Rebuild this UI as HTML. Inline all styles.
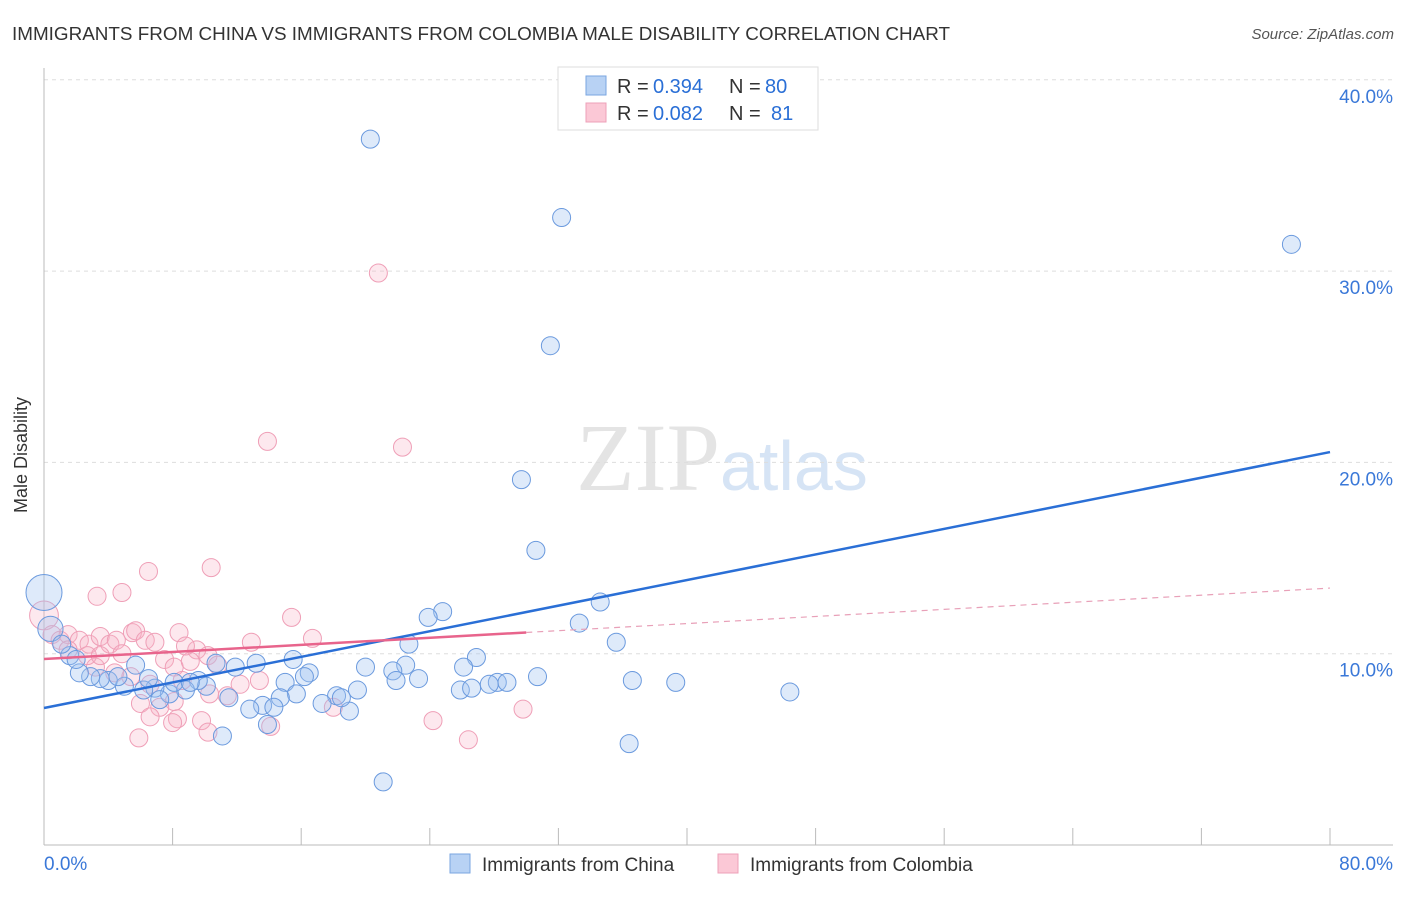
<!DOCTYPE html>
<html><head><meta charset="utf-8"><style>
body{margin:0;background:#fff;font-family:"Liberation Sans",sans-serif}
</style></head><body>
<svg width="1406" height="892" xmlns="http://www.w3.org/2000/svg" font-family="Liberation Sans, sans-serif">
<text x="12" y="40" font-size="18" fill="#333" textLength="938" lengthAdjust="spacingAndGlyphs">IMMIGRANTS FROM CHINA VS IMMIGRANTS FROM COLOMBIA MALE DISABILITY CORRELATION CHART</text>
<text x="1394" y="39" font-size="15" fill="#555" font-style="italic" text-anchor="end">Source: ZipAtlas.com</text>
<text x="720" y="490" font-size="96" fill="#e4e4e4" text-anchor="end" font-family="Liberation Serif, serif">ZIP</text>
<text x="720" y="490" font-size="70" fill="#d6e4f5">atlas</text>
<g id="grid"></g>
<g id="axes"></g>
<g id="pts"></g>
<g id="lines"></g>
<text x="27" y="455" font-size="18" fill="#333" text-anchor="middle" transform="rotate(-90 27 455)">Male Disability</text>
<g>
<rect x="558" y="67" width="260" height="63" fill="#fff" stroke="#ddd"/>
<rect x="586" y="76" width="20" height="19" fill="#b8d2f4" stroke="#7aa6e0"/>
<rect x="586" y="103" width="20" height="19" fill="#fbc8d6" stroke="#eea0b8"/>
<text x="617" y="93" font-size="20" fill="#333">R =</text>
<text x="653" y="93" font-size="20" fill="#2a6fd6">0.394</text>
<text x="729" y="93" font-size="20" fill="#333">N =</text>
<text x="765" y="93" font-size="20" fill="#2a6fd6">80</text>
<text x="617" y="120" font-size="20" fill="#333">R =</text>
<text x="653" y="120" font-size="20" fill="#2a6fd6">0.082</text>
<text x="729" y="120" font-size="20" fill="#333">N =</text>
<text x="771" y="120" font-size="20" fill="#2a6fd6">81</text>
</g>
<g>
<rect x="450" y="854" width="20" height="19" fill="#b8d2f4" stroke="#7aa6e0"/>
<text x="482" y="871" font-size="19" fill="#333">Immigrants from China</text>
<rect x="718" y="854" width="20" height="19" fill="#fbc8d6" stroke="#eea0b8"/>
<text x="750" y="871" font-size="19" fill="#333">Immigrants from Colombia</text>
</g>
</svg>
<script>
const yTicks=[10,20,30,40];
const yTickLabels=["10.0%","20.0%","30.0%","40.0%"];
const xTicks=[0,8,16,24,32,40,48,56,64,72,80];
const xLabels=["0.0%","80.0%"];
const chinaX=[20.3,32.2,77.6,31.5,29.7,30.6,0,34.6,24.8,23.9,33.3,35.6,22.7,0.4,26.9,15.5,26.1,22.5,20.0,21.7,16.5,13.2,11.9,10.7,5.7,21.9,23.3,30.7,36.6,39.3,28.2,27.7,28.8,25.9,26.6,46.4,19.5,18.2,16.2,15.0,15.7,14.7,17.3,19.0,18.5,13.6,14.3,12.8,11.5,10.1,9.6,8.8,7.8,6.9,6.2,5.0,4.0,3.5,2.9,2.2,1.6,1.1,6.5,11.1,13.9,36.4,21.1,7.2,8.1,4.6,9.1,2.0];
const chinaY=[36.9,32.8,31.4,26.1,19.1,15.4,13.2,12.7,12.2,11.9,11.6,10.6,10.5,11.3,9.8,9.7,9.3,9.4,9.3,9.1,9.0,9.5,9.3,9.5,9.4,8.6,8.7,8.8,8.6,8.5,8.5,8.4,8.5,8.1,8.2,8.0,8.1,7.8,8.8,8.5,7.9,7.7,7.4,7.0,7.7,7.3,7.2,7.1,7.7,8.3,8.6,8.1,7.9,8.2,8.1,8.3,8.6,8.7,8.8,9.0,9.9,10.5,8.7,5.7,6.3,5.3,3.3,7.6,8.5,8.8,8.5,9.7];
const chinaW=[1,1,1,1,1,1,2,1,1,1,1,1,1,1.4,1,1,1,1,1,1,1,1,1,1,1,1,1,1,1,1,1,1,1,1,1,1,1,1,1,1,1,1,1,1,1,1,1,1,1,1,1,1,1,1,1,1,1,1,1,1,1,1,1,1,1,1,1,1,1,1,1,1];
const colX=[20.8,13.9,22.3,6.5,10.4,3.3,4.85,15.4,8.4,5.5,5.7,0,0.5,1.0,1.5,2.2,2.8,3.5,4.1,4.5,6.3,12.9,16.7,9.5,10.2,4.85,7.5,8.1,9.1,10.8,3.2,4.4,5.4,8.6,6.6,12.2,10.3,11.4,6.0,8.1,7.2,6.6,8.3,9.8,8.0,10.2,5.9,14.1,18.0,24.2,29.8,26.4,2.7,1.5,6.9,3.5,13.4,8.8];
const colY=[29.9,21.1,20.8,14.3,14.5,13.0,13.2,11.9,11.1,11.1,11.2,12.0,11.0,10.7,11.0,10.7,10.5,10.9,10.5,10.7,10.7,10.6,10.8,10.2,9.9,10.0,9.7,9.3,9.6,9.4,9.3,9.0,8.8,8.6,8.4,8.4,7.9,7.8,7.4,7.5,7.2,6.7,6.6,6.5,6.4,5.9,5.6,6.2,7.2,6.5,7.1,5.5,9.9,10.2,10.6,9.9,8.6,10.4];
const colW=[1,1,1,1,1,1,1,1,1,1,1,1.6,1,1,1,1,1,1,1,1,1,1,1,1,1,1,1,1,1,1,1,1,1,1,1,1,1,1,1,1,1,1,1,1,1,1,1,1,1,1,1,1,1,1,1,1,1,1];
const chinaTrend=[7.16,20.54];
const colTrend=[9.72,13.43];
const colSolidEnd=30;
const NS="http://www.w3.org/2000/svg";
const xs=v=>44+v*16.075, ys=v=>845-v*19.13;
function mk(p,t,a){const e=document.createElementNS(NS,t);for(const k in a)e.setAttribute(k,a[k]);p.appendChild(e);return e;}
const grid=document.getElementById('grid'),axes=document.getElementById('axes'),pts=document.getElementById('pts'),lines=document.getElementById('lines');
yTicks.forEach((v,i)=>{
 const l=mk(grid,'line',{x1:44,x2:1393,y1:ys(v),y2:ys(v),stroke:'#ddd','stroke-dasharray':'4,4'});
 
 
 const t=mk(axes,'text',{x:1393,y:ys(v)+23,'font-size':19,fill:'#3a78d8','text-anchor':'end'});t.textContent=yTickLabels[i];
 
 
});
mk(axes,'line',{x1:44,x2:44,y1:68,y2:845,stroke:'#bbb'});
mk(axes,'line',{x1:44,x2:1393,y1:845,y2:845,stroke:'#bbb'});
xTicks.forEach(v=>{const l=mk(axes,'line',{x1:xs(v),x2:xs(v),y1:828,y2:845,stroke:'#bbb'});
 
 });
const xl0=mk(axes,'text',{x:44,y:870,'font-size':19,fill:'#3a78d8'});xl0.textContent=xLabels[0];


const xl1=mk(axes,'text',{x:1393,y:870,'font-size':19,fill:'#3a78d8','text-anchor':'end'});xl1.textContent=xLabels[1];


colX.forEach((v,i)=>{const c=mk(pts,'circle',{cx:xs(v),cy:ys(colY[i]),r:9*colW[i],fill:'rgba(248,180,200,0.3)',stroke:'#ef9fb7','stroke-width':1});
 
 });
chinaX.forEach((v,i)=>{const c=mk(pts,'circle',{cx:xs(v),cy:ys(chinaY[i]),r:9*chinaW[i],fill:'rgba(160,196,240,0.35)',stroke:'#6b9ade','stroke-width':1});
 
 });
const bl=mk(lines,'line',{x1:xs(0),y1:ys(chinaTrend[0]),x2:xs(80),y2:ys(chinaTrend[1]),stroke:'#2a6fd6','stroke-width':2.5});


const cy=x=>colTrend[0]+(colTrend[1]-colTrend[0])*x/80;
const pl=mk(lines,'line',{x1:xs(0),y1:ys(cy(0)),x2:xs(colSolidEnd),y2:ys(cy(colSolidEnd)),stroke:'#e8648c','stroke-width':2.5});


const pd=mk(lines,'line',{x1:xs(colSolidEnd),y1:ys(cy(colSolidEnd)),x2:xs(80),y2:ys(cy(80)),stroke:'#e8a0b8','stroke-width':1.2,'stroke-dasharray':'6,5'});


</script>
</body></html>
